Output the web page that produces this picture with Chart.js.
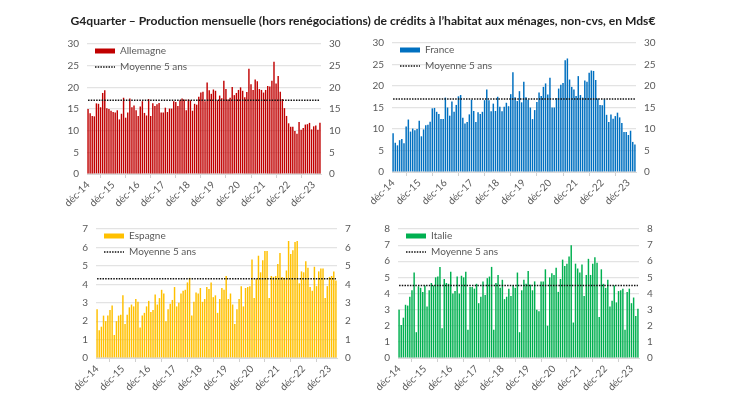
<!DOCTYPE html>
<html>
<head>
<meta charset="utf-8">
<script src="https://cdn.jsdelivr.net/npm/chart.js@4"></script>
<style>
  html, body { margin: 0; background: #fff; }
  #page { position: relative; width: 730px; height: 410px; overflow: hidden; filter: blur(0.4px); }
  #title { position: absolute; left: 0; top: 13px; width: 726px; text-align: center; font: bold 12.1px Lato, sans-serif; color: #222; white-space: nowrap; }
  .panel { position: absolute; }
  #pAllemagne { left: 57px; top: 30px; width: 294px; height: 178px; }
  #pFrance { left: 362px; top: 29px; width: 304px; height: 177px; }
  #pEspagne { left: 66px; top: 215px; width: 301px; height: 177px; }
  #pItalie { left: 368px; top: 215px; width: 301px; height: 177px; }
</style>
</head>
<body>
<div id="page">
  <div id="title">G4quarter – Production mensuelle (hors renégociations) de crédits à l’habitat aux ménages, non-cvs, en Mds€</div>
  <div class="panel" id="pAllemagne"><canvas id="cAllemagne"></canvas></div>
  <div class="panel" id="pFrance"><canvas id="cFrance"></canvas></div>
  <div class="panel" id="pEspagne"><canvas id="cEspagne"></canvas></div>
  <div class="panel" id="pItalie"><canvas id="cItalie"></canvas></div>
</div>
<script>
// one value per month, dec-14 to mar-24
const allemagne = [
  15, 14, 13.4, 13.3, 16.3, 16.2, 15.4, 18.7, 19.3, 15.2, 15, 14.6,
  14.3, 14.2, 14.7, 12.6, 13.9, 17.6, 13, 14.2, 17.4, 15.4, 15.8, 14.7,
  13.4, 15.6, 16.8, 14.1, 13.5, 17.3, 13.4, 16.3, 15.7, 16.1, 16.4, 14.2,
  14.2, 15.3, 14.3, 15.1, 15.1, 16.8, 16.6, 15.7, 17, 17.4, 17.2, 14.7,
  17.2, 17, 14.6, 16.2, 16, 17.8, 18.8, 19, 16.8, 21.1, 19.3, 18.5,
  19.5, 19.2, 17, 18.1, 17.5, 21.5, 19.6, 17.2, 17.6, 20.1, 18.2, 18.7,
  19.4, 20, 19.2, 17.7, 18.9, 24.3, 20.7, 19.4, 21.8, 21.4, 19.6, 19.4,
  18.8, 19.4, 20.3, 20.2, 21.5, 25.9, 20.9, 22.6, 19, 17.3, 15.2, 13.4,
  11.7, 10.9, 10.9, 9.9, 9.3, 12, 10.2, 10.6, 11.4, 11.5, 11.8, 10.3,
  11, 11.2, 10.2, 11.8
];
const france = [
  9, 6.8, 6.2, 7.4, 7.7, 6.7, 10.6, 12.2, 9.4, 10.1, 9.7, 10,
  11.9, 8.3, 9.9, 10.9, 11, 11.7, 14.8, 14.9, 14, 13.5, 12.3, 12.3,
  17.3, 15, 13.1, 16.4, 14, 15.6, 17.6, 17.9, 12.6, 11.3, 11.6, 13.4,
  16.8, 14.2, 11.6, 13.9, 13.5, 14, 16.7, 19.2, 16.7, 14.1, 15.9, 14.2,
  17.5, 15.2, 14.1, 15.2, 16.1, 15.3, 18.1, 23.2, 17.4, 16.5, 18.8, 16.2,
  21, 17.4, 16.8, 15, 12.3, 14.4, 16.3, 18.5, 17.7, 19.8, 20.6, 18,
  21.9, 15, 15, 17.2, 19.4, 20.3, 20.7, 26, 26.4, 21.5, 19.8, 19.2,
  17.7, 22.3, 17.9, 17.3, 21.3, 21, 23.1, 23.6, 23.5, 21.4, 17.1, 15.6,
  15.5, 16.9, 13.3, 11.6, 13.4, 12.4, 13, 13.8, 12.7, 11.4, 9.3, 9.3,
  8.6, 9.6, 7, 6.4
];
const espagne = [
  2.65, 1.5, 1.7, 2.3, 2, 2.3, 2.6, 2.85, 1.25, 2, 2.3, 2.35,
  3.4, 1.85, 2.35, 2.75, 2.9, 2.8, 3.2, 3.05, 1.65, 2.3, 2.45, 2.8,
  3.1, 2.5, 2.6, 3.45, 2.9, 3.25, 3.7, 3.5, 2, 2.65, 2.95, 3.15,
  3.85, 2.8, 3, 3.5, 3.65, 3.7, 4.1, 4.35, 2.3, 3.05, 3.55, 3.5,
  3.8, 3.05, 3.2, 3.85, 3.75, 4.1, 3.3, 3.4, 2.45, 3.2, 3.8, 3.7,
  4.45, 3.2, 3.5, 2.9, 1.85, 2.65, 3.2, 3.9, 2.8, 3.8, 3.85, 3.9,
  5.35, 3.25, 4.3, 5.55, 4.65, 5.3, 5.8, 5.8, 3.25, 4.45, 4.4, 4.45,
  5.1, 5.7, 4.4, 4.35, 4.75, 6.35, 5.65, 5.85, 6.3, 6.35, 4.05, 4.7,
  4.65, 5.25, 4.9, 3.85, 3.65, 4.95, 3.9, 4.7, 4.85, 4.85, 3.25, 3.9,
  4.4, 4.45, 4.7, 4.2
];
const italie = [
  3, 2.05, 2.5, 3.3, 3.25, 3.8, 4.2, 5.3, 1.6, 4.45, 4.35, 4.1,
  4.5, 3.2, 4.2, 4.65, 4.5, 5, 5.05, 5.65, 1.85, 4.9, 4.65, 4.6,
  5.35, 4, 4.15, 5.05, 4, 5.1, 5, 5.35, 1.75, 4.4, 4.4, 4.3,
  4.6, 3.4, 3.8, 4.75, 3.9, 4.95, 5.05, 5.65, 1.75, 4.65, 5.15, 4.35,
  4.85, 3.65, 3.8, 4.3, 3.85, 4.5, 4.35, 5.3, 1.6, 4.2, 4.85, 4.6,
  5.4, 4.55, 4.2, 4.75, 3, 2.9, 4.75, 4.75, 5.5, 2, 5, 5.25,
  5.15, 5.6, 4.1, 4.9, 6.1, 5.7, 5.85, 6.3, 7, 2.2, 5.85, 5.55,
  5.3, 5.8, 3.85, 5.15, 6.15, 5.15, 5.85, 6.25, 5.9, 2.55, 5.5, 4.6,
  4.35, 4.85, 3.2, 3.55, 4.5, 3.45, 4.15, 4.2, 4.3, 1.75, 4.1, 4.3,
  3.4, 3.75, 2.6, 3.05
];
const moyenneAllemagne = 17;
const moyenneFrance = 17;
const moyenneEspagne = 4.3;
const moyenneItalie = 4.5;
const years = ['14', '15', '16', '17', '18', '19', '20', '21', '22', '23', '24'];
const monthNames = ['déc', 'janv', 'févr', 'mars', 'avr', 'mai', 'juin', 'juil', 'août', 'sept', 'oct', 'nov'];

// month labels, a tick is kept only for each december
const months = allemagne.map((v, i) => monthNames[i % 12] + '-' + years[Math.floor(i / 12) + (i % 12 ? 1 : 0)]);

const labelColor = '#595959';
const font = { family: 'Lato, sans-serif', size: 10 };
const dotted = [1.5, 1.2];

// the legend sits inside the plot, near its top left corner
const legendInPlot = {
  id: 'legendInPlot',
  afterLayout(chart) {
    const legend = chart.legend;
    const dx = chart.chartArea.left + 2 - legend.left;
    const dy = chart.chartArea.top - 4 - legend.top;
    legend.left += dx;
    legend.right += dx;
    legend.top += dy;
    legend.bottom += dy;
  }
};

function makeChart(id, name, values, moyenne, color, yMax, step) {
  const yScale = (position) => ({
    position: position,
    min: 0,
    max: yMax,
    ticks: { stepSize: step, color: labelColor, font: font, padding: 8 },
    border: { display: false },
    grid: { color: position === 'left' ? '#e3e3e3' : 'transparent', lineWidth: 1.2, drawTicks: false },
    afterFit: (scale) => { scale.width = 30; }
  });

  new Chart(document.getElementById(id), {
    plugins: [legendInPlot],
    data: {
      labels: months,
      datasets: [
        { type: 'bar', label: name, data: values, backgroundColor: color, barPercentage: 0.68, categoryPercentage: 1, order: 2, yAxisID: 'y' },
        { type: 'line', label: 'Moyenne 5 ans', data: values.map(() => moyenne), borderColor: '#111', borderWidth: 1.5, borderDash: dotted, pointRadius: 0, order: 1, yAxisID: 'y' }
      ]
    },
    options: {
      responsive: true,
      maintainAspectRatio: false,
      animation: false,
      layout: { padding: { top: 12 } },
      plugins: {
        tooltip: { enabled: false },
        legend: {
          position: 'chartArea',
          align: 'start',
          labels: {
            color: labelColor,
            font: font,
            usePointStyle: true,
            pointStyleWidth: 20,
            boxHeight: 5,
            padding: 6,
            sort: (a, b) => a.datasetIndex - b.datasetIndex,
            generateLabels: (chart) => Chart.defaults.plugins.legend.labels.generateLabels(chart).map((item) => {
              if (item.datasetIndex === 0) {
                item.pointStyle = 'rect';
                item.lineWidth = 0;
              } else {
                item.pointStyle = 'line';
                item.strokeStyle = '#111';
                item.lineWidth = 1.3;
                item.lineDash = dotted;
              }
              return item;
            })
          }
        }
      },
      scales: {
        x: {
          ticks: { autoSkip: false, maxRotation: 45, minRotation: 45, color: labelColor, font: font, padding: 1 },
          border: { color: '#d9d9d9' },
          grid: { drawOnChartArea: false, tickLength: 4, tickColor: '#d0d0d0' },
          afterBuildTicks: (scale) => { scale.ticks = scale.ticks.filter((t) => t.value % 12 === 0); },
          afterFit: (scale) => { scale.height = 34; }
        },
        y: yScale('left'),
        y1: Object.assign(yScale('right'), { display: true })
      }
    }
  });
}

makeChart('cAllemagne', 'Allemagne', allemagne, moyenneAllemagne, '#c00000', 30, 5);
makeChart('cFrance', 'France', france, moyenneFrance, '#0070c0', 30, 5);
makeChart('cEspagne', 'Espagne', espagne, moyenneEspagne, '#ffc000', 7, 1);
makeChart('cItalie', 'Italie', italie, moyenneItalie, '#00b050', 8, 1);
</script>
</body>
</html>
